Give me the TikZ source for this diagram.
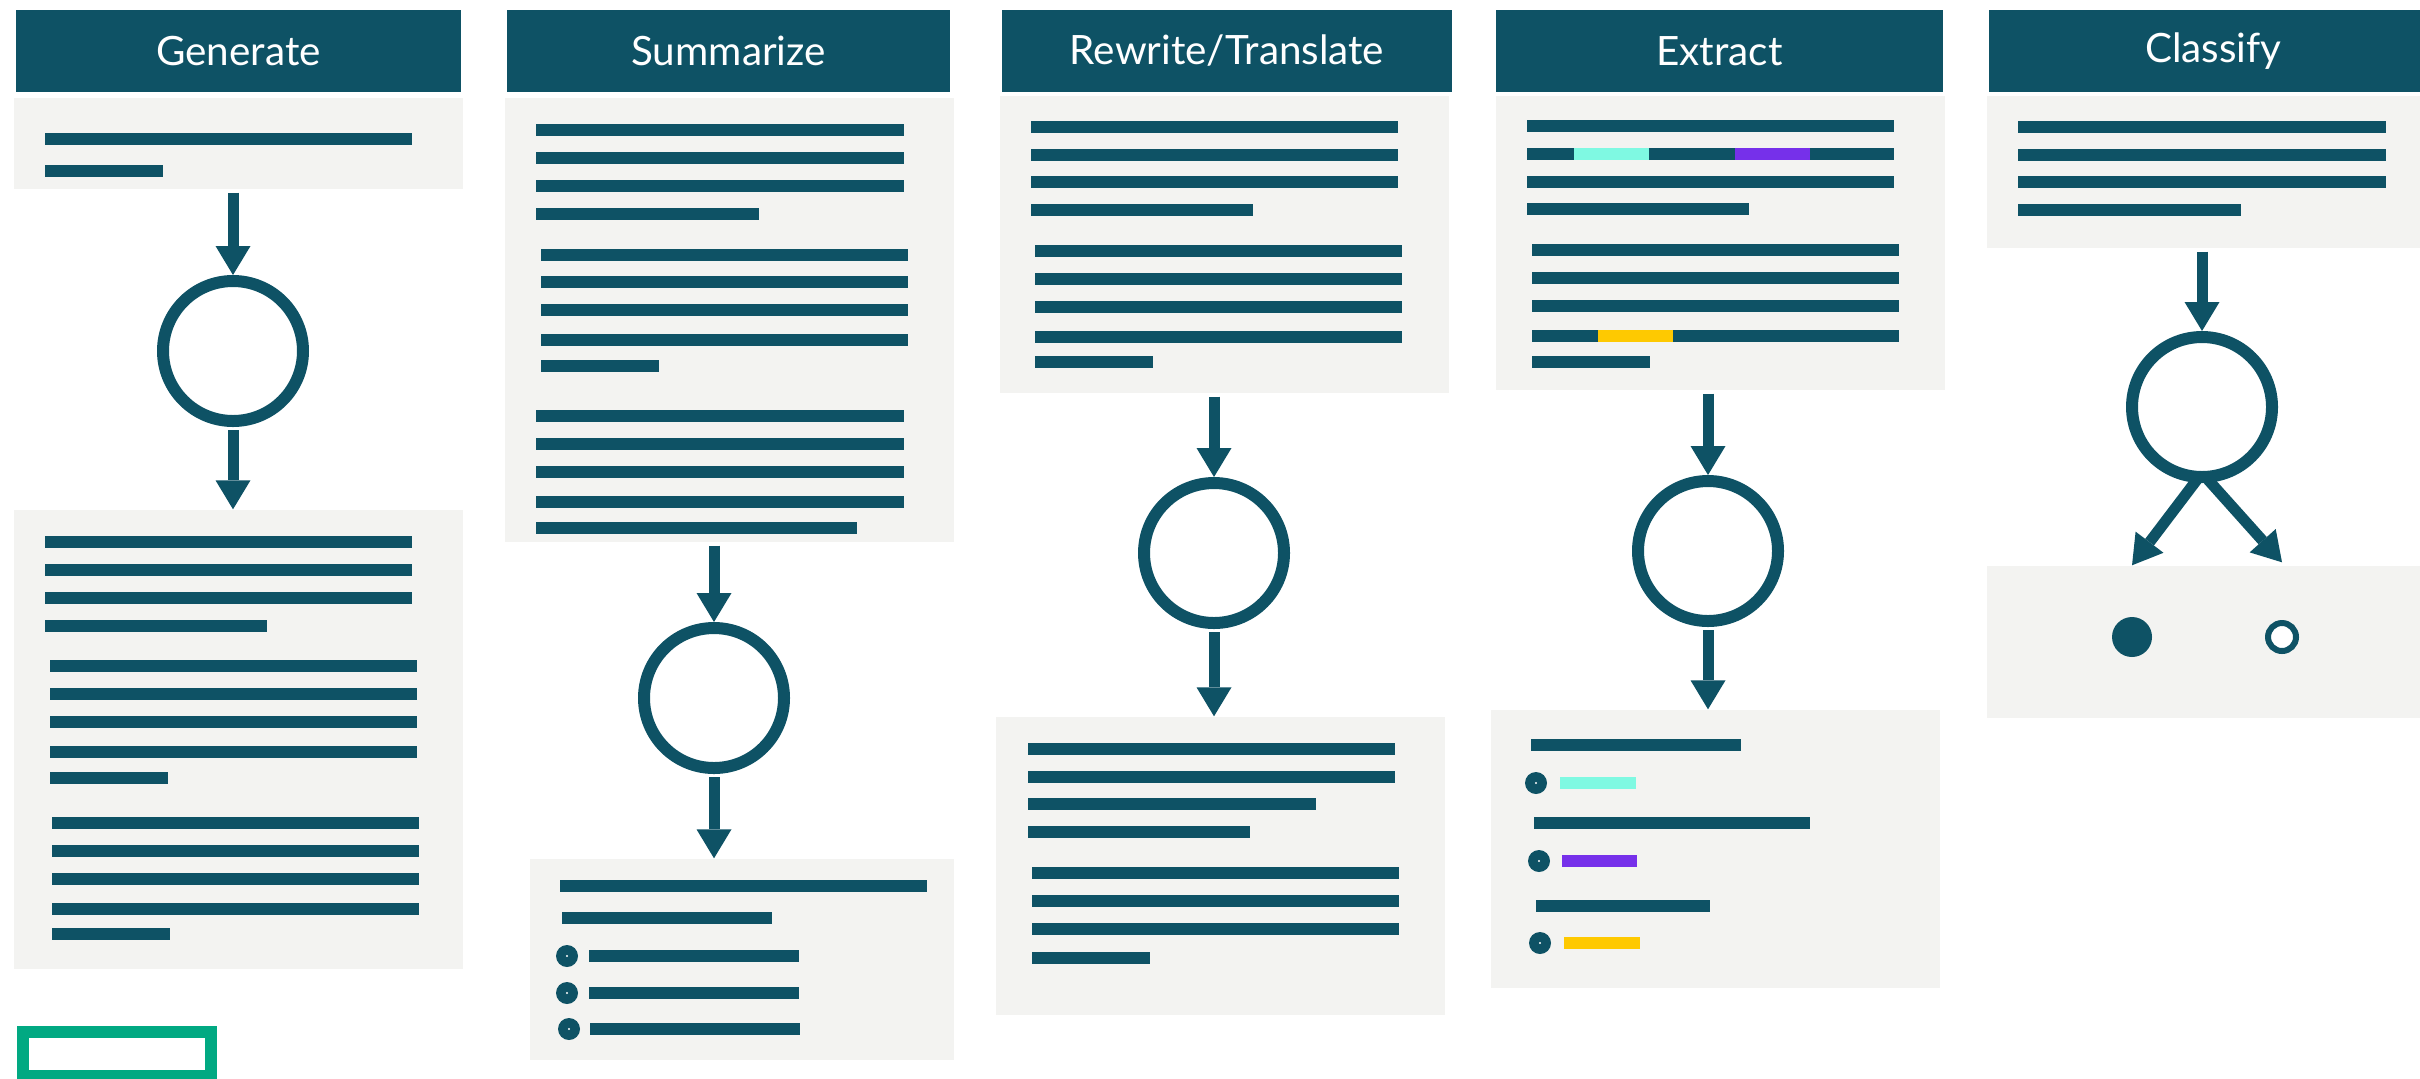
\documentclass[tikz,border=0pt]{standalone}
\usepackage{fontspec}
\setmainfont{Lato}
\usetikzlibrary{arrows.meta}
\definecolor{hpeteal}{HTML}{0E5265}
\definecolor{panelgray}{HTML}{F3F3F1}
\definecolor{hlcyan}{HTML}{7FF9E2}
\definecolor{hlpurple}{HTML}{7630EA}
\definecolor{hlyellow}{HTML}{FEC901}
\definecolor{hpegreen}{HTML}{01A982}
\begin{document}
\begin{tikzpicture}[x=0.1mm, y=-0.1mm,
	head/.style={fill=hpeteal, text=white, inner sep=0pt, minimum height=8.2mm, font=\fontsize{11.5}{14}\selectfont},
	panel/.style={fill=panelgray, inner sep=0pt},
	model/.style={circle, draw=hpeteal, fill=white, line width=1.2mm, minimum size=14mm, inner sep=0pt},
	flow/.style={draw=hpeteal, line width=1.1mm, shorten <=0.3mm, -{Triangle[width=3.5mm,length=2.9mm,line width=0pt]}},
	txt/.style={draw=hpeteal, line width=1.2mm},
	hl/.style={line width=1.2mm},
	bullet/.style={circle, fill=hpeteal, inner sep=0pt, minimum size=2.2mm,
		path picture={\fill[white] (path picture bounding box.center) circle (0.12mm);}}]
		\useasboundingbox (0,0) rectangle (2420,1078);

		% Generate
		\node[head, minimum width=44.5mm] (g-head) at (238.5,51) {Generate};
		\node[panel, minimum width=44.9mm, minimum height=9.1mm] (g-in) at (238.5,143.5) {};
		\node[model] (g-circ) at (233,351) {};
		\node[panel, minimum width=44.9mm, minimum height=45.9mm] (g-out) at (238.5,739.5) {};
		\draw[flow] (g-circ |- g-in.south) -- (g-circ.north);
		\draw[flow] (g-circ.south) -- (g-circ |- g-out.north);

		\draw[txt] (45,139) -- (412,139);
		\draw[txt] (45,171) -- (163,171);

		\draw[txt] (45,542) -- (412,542);
		\draw[txt] (45,570) -- (412,570);
		\draw[txt] (45,598) -- (412,598);
		\draw[txt] (45,626) -- (267,626);
		\draw[txt] (50,666) -- (417,666);
		\draw[txt] (50,694) -- (417,694);
		\draw[txt] (50,722) -- (417,722);
		\draw[txt] (50,752) -- (417,752);
		\draw[txt] (50,778) -- (168,778);
		\draw[txt] (52,823) -- (419,823);
		\draw[txt] (52,851) -- (419,851);
		\draw[txt] (52,879) -- (419,879);
		\draw[txt] (52,909) -- (419,909);
		\draw[txt] (52,934) -- (170,934);

		% Summarize
		\node[head, minimum width=44.3mm] (s-head) at (728.5,51) {Summarize};
		\node[panel, minimum width=44.9mm, minimum height=44.4mm] (s-in) at (729.5,320) {};
		\node[model] (s-circ) at (714,698) {};
		\node[panel, minimum width=42.4mm, minimum height=20.1mm] (s-out) at (742,959.5) {};
		\draw[flow] (s-circ |- s-in.south) -- (s-circ.north);
		\draw[flow] (s-circ.south) -- (s-circ |- s-out.north);

		\draw[txt] (536,130) -- (904,130);
		\draw[txt] (536,158) -- (904,158);
		\draw[txt] (536,186) -- (904,186);
		\draw[txt] (536,214) -- (759,214);
		\draw[txt] (541,255) -- (908,255);
		\draw[txt] (541,282) -- (908,282);
		\draw[txt] (541,310) -- (908,310);
		\draw[txt] (541,340) -- (908,340);
		\draw[txt] (541,366) -- (659,366);
		\draw[txt] (536,416) -- (904,416);
		\draw[txt] (536,444) -- (904,444);
		\draw[txt] (536,472) -- (904,472);
		\draw[txt] (536,502) -- (904,502);
		\draw[txt] (536,528) -- (857,528);

		\draw[txt] (560,886) -- (927,886);
		\draw[txt] (562,918) -- (772,918);
		\node[bullet] (s-b1) at (567,956) {};
		\node[bullet] (s-b2) at (567,993) {};
		\node[bullet] (s-b3) at (569,1029) {};
		\draw[txt] (589,956) -- (799,956);
		\draw[txt] (589,993) -- (799,993);
		\draw[txt] (590,1029) -- (800,1029);

		% Rewrite/Translate
		\node[head, minimum width=45mm] (r-head) at (1227,51) {Rewrite/Translate};
		\node[panel, minimum width=44.9mm, minimum height=29.7mm] (r-in) at (1224.5,244.5) {};
		\node[model] (r-circ) at (1214,553) {};
		\node[panel, minimum width=44.9mm, minimum height=29.8mm] (r-out) at (1220.5,866) {};
		\draw[flow] (r-circ |- r-in.south) -- (r-circ.north);
		\draw[flow] (r-circ.south) -- (r-circ |- r-out.north);

		\draw[txt] (1031,127) -- (1398,127);
		\draw[txt] (1031,155) -- (1398,155);
		\draw[txt] (1031,182) -- (1398,182);
		\draw[txt] (1031,210) -- (1253,210);
		\draw[txt] (1035,251) -- (1402,251);
		\draw[txt] (1035,279) -- (1402,279);
		\draw[txt] (1035,307) -- (1402,307);
		\draw[txt] (1035,337) -- (1402,337);
		\draw[txt] (1035,362) -- (1153,362);

		\draw[txt] (1028,749) -- (1395,749);
		\draw[txt] (1028,777) -- (1395,777);
		\draw[txt] (1028,804) -- (1316,804);
		\draw[txt] (1028,832) -- (1250,832);
		\draw[txt] (1032,873) -- (1399,873);
		\draw[txt] (1032,901) -- (1399,901);
		\draw[txt] (1032,929) -- (1399,929);
		\draw[txt] (1032,958) -- (1150,958);

		% Extract
		\node[head, minimum width=44.7mm] (e-head) at (1719.5,51) {Extract};
		\node[panel, minimum width=44.9mm, minimum height=29.4mm] (e-in) at (1720.5,243) {};
		\node[model] (e-circ) at (1708,551) {};
		\node[panel, minimum width=44.9mm, minimum height=27.8mm] (e-out) at (1715.5,849) {};
		\draw[flow] (e-circ |- e-in.south) -- (e-circ.north);
		\draw[flow] (e-circ.south) -- (e-circ |- e-out.north);

		\draw[txt] (1527,126) -- (1894,126);
		\draw[txt] (1527,154) -- (1894,154);
		\draw[hl, hlcyan] (1574,154) -- (1649,154);
		\draw[hl, hlpurple] (1735,154) -- (1810,154);
		\draw[txt] (1527,182) -- (1894,182);
		\draw[txt] (1527,209) -- (1749,209);
		\draw[txt] (1532,250) -- (1899,250);
		\draw[txt] (1532,278) -- (1899,278);
		\draw[txt] (1532,306) -- (1899,306);
		\draw[txt] (1532,336) -- (1899,336);
		\draw[hl, hlyellow] (1598,336) -- (1673,336);
		\draw[txt] (1532,362) -- (1650,362);

		\draw[txt] (1531,745) -- (1741,745);
		\node[bullet] (e-b1) at (1536,783) {};
		\draw[hl, hlcyan] (1560,783) -- (1636,783);
		\draw[txt] (1534,823) -- (1810,823);
		\node[bullet] (e-b2) at (1539,861) {};
		\draw[hl, hlpurple] (1562,861) -- (1637,861);
		\draw[txt] (1536,906) -- (1710,906);
		\node[bullet] (e-b3) at (1540,943) {};
		\draw[hl, hlyellow] (1564,943) -- (1640,943);

		% Classify
		\node[head, minimum width=44.9mm] (c-head) at (2213.5,51) {Classify};
		\node[panel, minimum width=44.9mm, minimum height=15.2mm] (c-in) at (2211.5,172) {};
		\node[model] (c-circ) at (2202,407) {};
		\node[panel, minimum width=44.9mm, minimum height=15.2mm] (c-out) at (2211.5,642) {};
		\node[circle, fill=hpeteal, inner sep=0pt, minimum size=4mm] (c-yes) at (2132,637) {};
		\node[circle, draw=hpeteal, fill=white, line width=0.6mm, inner sep=0pt, minimum size=2.8mm] (c-no) at (2282,637) {};
		\draw[flow] (c-circ |- c-in.south) -- (c-circ.north);
		\draw[flow] ([yshift=1mm]c-circ.south) -- (c-yes |- c-out.north);
		\draw[flow] ([yshift=1mm]c-circ.south) -- ([yshift=0.3mm]c-no |- c-out.north);

		\draw[txt] (2018,127) -- (2386,127);
		\draw[txt] (2018,155) -- (2386,155);
		\draw[txt] (2018,182) -- (2386,182);
		\draw[txt] (2018,210) -- (2241,210);

		\draw[hpegreen, line width=1.2mm] (23,1032) rectangle (211,1076);

	\end{tikzpicture}
\end{document}
